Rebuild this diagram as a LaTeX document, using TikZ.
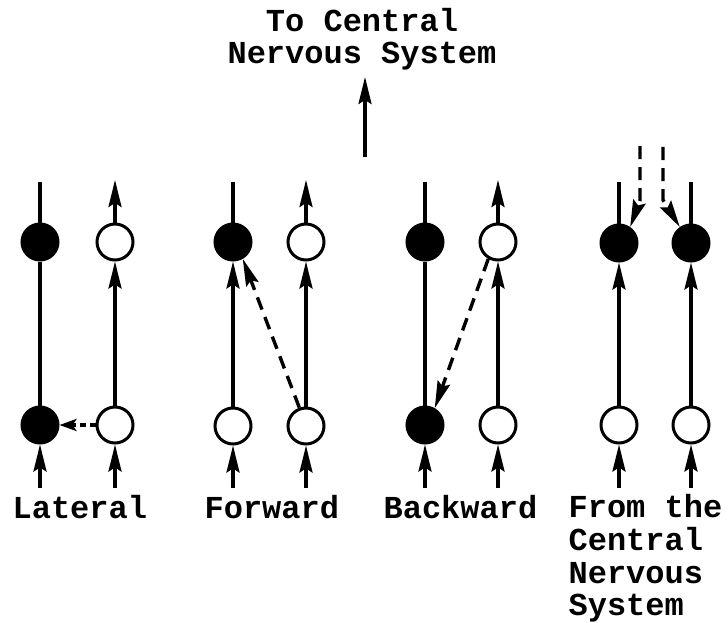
\documentclass[tikz,border=0pt]{standalone}
\usepackage{fontspec}
\setmonofont{Liberation Mono}
\usetikzlibrary{arrows.meta}
\begin{document}
\begin{tikzpicture}[x=1pt,y=-1pt, line width=3.2pt,
  neu/.style={circle, draw, line width=3pt, minimum size=36pt, inner sep=0pt},
  blk/.style={neu, fill=black},
  wht/.style={neu, fill=white},
  arr/.style={-{Stealth[length=27pt,width=13pt,inset=4pt]}},
  dsh/.style={arr, dash pattern=on 13pt off 8pt, line width=3.4pt},
  lbl/.style={font=\fontsize{32}{32.5}\selectfont\ttfamily\bfseries, inner sep=0pt, anchor=base west}]
\useasboundingbox (0,0) rectangle (728,623);

% top label and arrow
\node[lbl, anchor=base] (t1) at (362,32) {To Central};
\node[lbl, anchor=base] (t2) at (362,64) {Nervous System};
\coordinate (ta) at (365,157);
\coordinate (tb) at (365,77);
\draw[arr] (ta) -- (tb);

% ---------- Lateral ----------
\node[blk] (a1t) at (40,242) {};
\node[blk] (a1b) at (40,425) {};
\node[wht] (a2t) at (115,242) {};
\node[wht] (a2b) at (115,425) {};
\coordinate (a1top) at (40,182);
\coordinate (a2top) at (115,180);
\coordinate (a1in) at (40,488);
\coordinate (a2in) at (115,488);
\draw (a1top) -- (a1t);
\draw (a1t) -- (a1b);
\draw[arr] (a1in) -- (a1b);
\draw[arr] (a2t) -- (a2top);
\draw[arr] (a2b) -- (a2t);
\draw[arr] (a2in) -- (a2b);
\draw[-{Stealth[length=17pt,width=12pt,inset=4pt]}, line width=3.2pt, dash pattern=on 6pt off 4pt] (a2b) -- (a1b);

% ---------- Forward ----------
\node[blk] (b1t) at (233,242) {};
\node[wht] (b1b) at (233,426) {};
\node[wht] (b2t) at (306,242) {};
\node[wht] (b2b) at (306,426) {};
\coordinate (b1top) at (233,182);
\coordinate (b2top) at (306,180);
\coordinate (b1in) at (233,488);
\coordinate (b2in) at (306,488);
\draw (b1top) -- (b1t);
\draw[arr] (b1b) -- (b1t);
\draw[arr] (b1in) -- (b1b);
\draw[arr] (b2t) -- (b2top);
\draw[arr] (b2b) -- (b2t);
\draw[arr] (b2in) -- (b2b);
\draw[dsh] (b2b.110) -- (b1t.-60);

% ---------- Backward ----------
\node[blk] (c1t) at (425,242) {};
\node[blk] (c1b) at (425,425) {};
\node[wht] (c2t) at (498,242) {};
\node[wht] (c2b) at (498,425) {};
\coordinate (c1top) at (425,182);
\coordinate (c2top) at (498,180);
\coordinate (c1in) at (425,488);
\coordinate (c2in) at (498,488);
\draw (c1top) -- (c1t);
\draw (c1t) -- (c1b);
\draw[arr] (c1in) -- (c1b);
\draw[arr] (c2t) -- (c2top);
\draw[arr] (c2b) -- (c2t);
\draw[arr] (c2in) -- (c2b);
\draw[dsh] (c2t.-120) -- (c1b.60);

% ---------- From the CNS ----------
\node[blk] (d1t) at (619,243) {};
\node[wht] (d1b) at (619,425) {};
\node[blk] (d2t) at (691,243) {};
\node[wht] (d2b) at (691,425) {};
\coordinate (d1top) at (619,182);
\coordinate (d2top) at (691,182);
\coordinate (d1in) at (619,488);
\coordinate (d2in) at (691,488);
\draw (d1top) -- (d1t);
\draw[arr] (d1b) -- (d1t);
\draw[arr] (d1in) -- (d1b);
\draw (d2top) -- (d2t);
\draw[arr] (d2b) -- (d2t);
\draw[arr] (d2in) -- (d2b);
\coordinate (e1s) at (640,146);
\coordinate (e1k) at (640,200);
\coordinate (e2s) at (663,147);
\coordinate (e2k) at (663,200);
\draw[dsh] (e1s) -- (e1k) -- (d1t.55);
\draw[dsh] (e2s) -- (e2k) -- (d2t.125);

% labels
\node[lbl] (l1) at (11,518) {Lateral};
\node[lbl] (l2) at (203,518) {Forward};
\node[lbl] (l3) at (382,518) {Backward};
\node[lbl] (l4a) at (567,517) {From the};
\node[lbl] (l4b) at (567,550) {Central};
\node[lbl] (l4c) at (567,583) {Nervous};
\node[lbl] (l4d) at (567,615) {System};
\end{tikzpicture}
\end{document}
